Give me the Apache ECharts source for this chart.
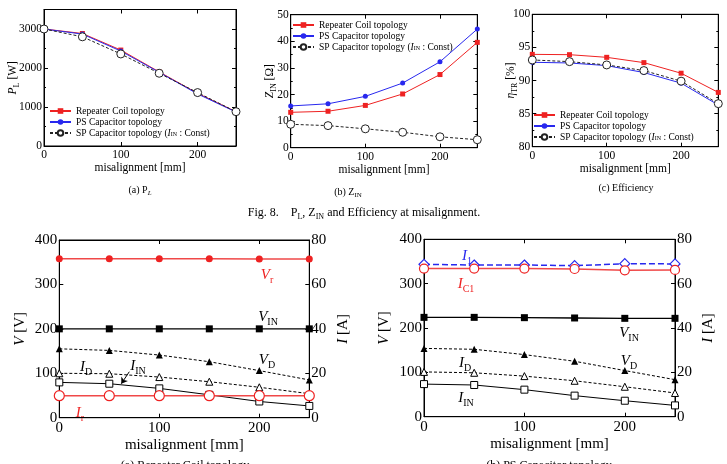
<!DOCTYPE html>
<html>
<head>
<meta charset="utf-8">
<script src="https://cdn.jsdelivr.net/npm/echarts@6/dist/echarts.min.js"></script>
<style>
  html, body { margin: 0; padding: 0; background: #fff; }
  #main { width: 727px; height: 464px; }
</style>
</head>
<body>
<div id="main"></div>
<script>
// misalignment steps [mm]
const misalignment = [0, 50, 100, 150, 200, 250];

// Fig. 8 (a) P_L [W]
const plRepeater = [3000, 2885, 2460, 1900, 1350, 880];
const plPS = [3000, 2870, 2435, 1890, 1335, 870];
const plSP = [3000, 2800, 2360, 1865, 1370, 880];
// Fig. 8 (b) Z_IN [ohm]
const zinRepeater = [13.3, 13.7, 15.9, 20.2, 27.5, 39.6];
const zinPS = [15.7, 16.5, 19.3, 24.3, 32.3, 44.6];
const zinSP = [8.8, 8.3, 7.1, 5.8, 4.1, 3.0];
// Fig. 8 (c) efficiency [%]
const effRepeater = [93.95, 93.9, 93.5, 92.7, 91.1, 88.2];
const effPS = [92.75, 92.65, 92.25, 91.2, 89.6, 86.3];
const effSP = [93.1, 92.85, 92.35, 91.5, 89.9, 86.5];

// Fig. 9 (a) repeater coil topology, V [V] / I [A]
const rcVr = [358, 358, 358, 358, 357, 357];
const rcVin = [200, 200, 200, 200, 200, 200];
const rcVd = [155, 151.5, 141, 126, 106, 85];
const rcId = [20, 19.8, 18.3, 16.2, 13.7, 10.8];
const rcIin = [15.9, 15.3, 13.2, 10.3, 7.3, 5.3];
const rcIr = [9.9, 9.9, 9.9, 9.9, 9.9, 9.9];

// Fig. 9 (b) PS capacitor topology
const psI1 = [68.7, 68.4, 68.4, 68.1, 69.0, 68.9];
const psIc1 = [66.8, 66.8, 66.8, 66.6, 66.0, 66.2];
const psVin = [224, 224, 223.3, 222.6, 221.8, 221.8];
const psVd = [154, 152, 140, 125, 104, 83.5];
const psId = [20.2, 19.8, 18.3, 16.2, 13.5, 10.7];
const psIin = [14.7, 14.3, 12.2, 9.5, 7.2, 5.1];

const legendNames = ['Repeater Coil topology', 'PS Capacitor topology', 'SP Capacitor topology'];

const FONT = 'Liberation Serif';
const RED = '#ee2222';
const RED_LINE = '#f04848';
const BLUE = '#2828ee';

function pair(ys) {
  return misalignment.map((x, i) => [x, ys[i]]);
}

// rich text tokens: n normal, i italic, s subscript, si italic subscript
function richSet(size, color, key) {
  const ss = Math.round(size * 0.68);
  const lh = size * 1.4;
  const t = (o) => Object.assign({ fontFamily: FONT, [key]: color }, o);
  return {
    n: t({ fontSize: size, lineHeight: lh }),
    i: t({ fontSize: size, lineHeight: lh, fontStyle: 'italic' }),
    s: t({ fontSize: ss, lineHeight: ss, verticalAlign: 'bottom' }),
    si: t({ fontSize: ss, lineHeight: ss, verticalAlign: 'bottom', fontStyle: 'italic' })
  };
}

const grids = [
  { left: 44, top: 9.5, width: 192, height: 136.5 },
  { left: 290.7, top: 14.7, width: 186.6, height: 133 },
  { left: 532.3, top: 14.3, width: 186, height: 132.4 },
  { left: 59.3, top: 240, width: 250, height: 177.7 },
  { left: 424, top: 239.3, width: 251, height: 177.4 }
].map(g => Object.assign({ show: true, borderColor: '#000', borderWidth: 1, containLabel: false }, g));

const black = { color: '#000', width: 1 };

function xAxesFor(g, fs, nameGap) {
  const common = {
    type: 'value', gridIndex: g, min: 0, max: 250, interval: 100,
    axisLine: { show: true, onZero: false, lineStyle: black },
    axisTick: { show: true, inside: true, length: 4, lineStyle: black },
    splitLine: { show: false }
  };
  return [
    Object.assign({}, common, {
      position: 'bottom',
      axisLabel: { fontFamily: FONT, fontSize: fs, color: '#000', margin: 3,
        formatter: v => (v % 100 === 0 ? String(v) : '') },
      name: 'misalignment [mm]', nameLocation: 'middle', nameGap: nameGap,
      nameMoveOverlap: false,
      nameTextStyle: { fontFamily: FONT, fontSize: fs, color: '#000' }
    }),
    Object.assign({}, common, { position: 'top', axisLabel: { show: false } })
  ];
}

function yAxis(g, pos, min, max, interval, fs, labels, name, nameGap, minor) {
  const ax = {
    type: 'value', gridIndex: g, position: pos, min: min, max: max, interval: interval,
    axisLine: { show: true, onZero: false, lineStyle: black },
    axisTick: { show: true, inside: true, length: 4, lineStyle: black },
    minorTick: { show: !!minor, splitNumber: 2, length: 2, lineStyle: black },
    splitLine: { show: false },
    axisLabel: labels ? { fontFamily: FONT, fontSize: fs, color: '#000', margin: 2,
      formatter: v => (v % interval === 0 ? String(v) : '') } : { show: false }
  };
  if (name) {
    ax.name = name;
    ax.nameLocation = 'middle';
    ax.nameGap = nameGap;
    ax.nameMoveOverlap = false;
    ax.nameTextStyle = { fontFamily: FONT, fontSize: fs, color: '#000', rich: richSet(fs, '#000', 'color') };
  }
  return ax;
}

const xAxes = [].concat(
  xAxesFor(0, 11.5, 16), xAxesFor(1, 11.5, 16), xAxesFor(2, 11.5, 16),
  xAxesFor(3, 15, 20), xAxesFor(4, 15, 20)
);

const yAxes = [
  yAxis(0, 'left', 0, 3500, 1000, 11.5, true, '{i|P}{s|L}{n| [W]}', 23, true),
  yAxis(0, 'right', 0, 3500, 1000, 11.5, false, null, 0, true),
  yAxis(1, 'left', 0, 50, 10, 11.5, true, '{i|Z}{s|IN}{n| [Ω]}', 13, true),
  yAxis(1, 'right', 0, 50, 10, 11.5, false, null, 0, true),
  yAxis(2, 'left', 80, 100, 5, 11.5, true, '{i|η}{s|TR}{n| [%]}', 13, true),
  yAxis(2, 'right', 80, 100, 5, 11.5, false, null, 0, true),
  yAxis(3, 'left', 0, 400, 100, 15, true, '{i|V}{n| [V]}', 29, false),
  yAxis(3, 'right', 0, 80, 20, 15, true, '{i|I}{n| [A]}', 23, false),
  yAxis(4, 'left', 0, 400, 100, 15, true, '{i|V}{n| [V]}', 29, false),
  yAxis(4, 'right', 0, 80, 20, 15, true, '{i|I}{n| [A]}', 23, false)
];

// hollow markers are drawn as white-filled shapes with a thin coloured edge
function line(name, g, right, ys, color, symbol, size, lineOpt, edge) {
  let itemStyle = { color: color, borderWidth: 0 };
  if (symbol.indexOf('empty') === 0) {
    symbol = symbol.slice(5).toLowerCase();
    itemStyle = { color: '#fff', borderColor: color, borderWidth: edge || 1 };
  }
  return {
    name: name, type: 'line',
    xAxisIndex: g * 2, yAxisIndex: g * 2 + (right ? 1 : 0),
    data: pair(ys),
    symbol: symbol, symbolSize: size,
    itemStyle: itemStyle,
    lineStyle: Object.assign({ color: color, width: 1 }, lineOpt || {}),
    animation: false, silent: true
  };
}

const dash = { type: [3, 2] };

const series = [
  line(legendNames[0], 0, false, plRepeater, RED, 'rect', 5),
  line(legendNames[1], 0, false, plPS, BLUE, 'circle', 5),
  line(legendNames[2], 0, false, plSP, '#222', 'emptyCircle', 8, dash),
  line(legendNames[0], 1, false, zinRepeater, RED, 'rect', 5),
  line(legendNames[1], 1, false, zinPS, BLUE, 'circle', 5),
  line(legendNames[2], 1, false, zinSP, '#222', 'emptyCircle', 8, dash),
  line(legendNames[0], 2, false, effRepeater, RED, 'rect', 5),
  line(legendNames[1], 2, false, effPS, BLUE, 'circle', 5),
  line(legendNames[2], 2, false, effSP, '#222', 'emptyCircle', 8, dash),

  line('Vr', 3, false, rcVr, RED, 'circle', 7, { color: RED_LINE, width: 1.5 }),
  line('VIN', 3, false, rcVin, '#000', 'rect', 7, { width: 1.3 }),
  line('VD', 3, false, rcVd, '#000', 'triangle', 7, dash),
  line('ID', 3, true, rcId, '#000', 'emptyTriangle', 7, dash),
  Object.assign(line('IIN', 3, true, rcIin, '#000', 'emptyRect', 7), {
    markLine: {
      silent: true, animation: false,
      symbol: ['none', 'arrow'], symbolSize: 6,
      lineStyle: { color: '#000', width: 1, type: 'solid' },
      label: { show: false },
      data: [[{ coord: [70, 20.7] }, { coord: [62, 15.3] }]]
    }
  }),
  line('Ir', 3, true, rcIr, RED, 'emptyCircle', 10, { color: RED_LINE, width: 1.5 }, 1.2),

  line('I1', 4, true, psI1, BLUE, 'emptyDiamond', 10, { type: [6, 3], width: 1.5 }, 1.2),
  line('IC1', 4, true, psIc1, RED, 'emptyCircle', 9, { color: RED_LINE, width: 1.5 }, 1.2),
  line('VIN', 4, false, psVin, '#000', 'rect', 7, { width: 1.3 }),
  line('VD', 4, false, psVd, '#000', 'triangle', 7, dash),
  line('ID', 4, true, psId, '#000', 'emptyTriangle', 7, dash),
  line('IIN', 4, true, psIin, '#000', 'emptyRect', 7)
];

const legendRich = richSet(9.5, '#000', 'color');
Object.keys(legendRich).forEach(k => { legendRich[k].lineHeight = 8; });
function legendAt(left, top) {
  return {
    data: legendNames, left: left, top: top, orient: 'vertical',
    itemWidth: 21, itemHeight: 7, itemGap: 1, padding: 0,
    selectedMode: false,
    textStyle: { fontFamily: FONT, fontSize: 9.5, color: '#000', lineHeight: 8, rich: legendRich },
    formatter: name => name === legendNames[2]
      ? '{n|SP Capacitor topology (}{i|I}{s|IN}{n| : Const)}'
      : '{n|' + name + '}'
  };
}

function label(x, y, text, size, color) {
  return {
    type: 'text', x: x, y: y, silent: true,
    style: { text: text, align: 'center', verticalAlign: 'middle', rich: richSet(size, color, 'fill') }
  };
}

const graphics = [
  label(140, 190, '{n|(a) P}{si|L}', 10, '#000'),
  label(348, 192, '{n|(b) Z}{s|IN}', 10, '#000'),
  label(626, 188, '{n|(c) Efficiency}', 10, '#000'),
  label(364, 213, '{n|Fig. 8.    P}{s|L}{n|, Z}{s|IN}{n| and Efficiency at misalignment.}', 12, '#000'),
  // Fig. 9 (a) annotations
  label(267, 275, '{i|V}{s|r}', 15, RED),
  label(268, 317, '{i|V}{s|IN}', 15, '#000'),
  label(267, 360, '{i|V}{s|D}', 15, '#000'),
  label(86, 367, '{i|I}{s|D}', 15, '#000'),
  label(138, 366, '{i|I}{s|IN}', 15, '#000'),
  label(80, 413, '{i|I}{s|r}', 15, RED),
  // Fig. 9 (b) annotations
  label(467, 256, '{i|I}{s|1}', 15, BLUE),
  label(466, 284, '{i|I}{s|C1}', 15, RED),
  label(629, 333, '{i|V}{s|IN}', 15, '#000'),
  label(629, 361, '{i|V}{s|D}', 15, '#000'),
  label(465, 363, '{i|I}{s|D}', 15, '#000'),
  label(466, 398, '{i|I}{s|IN}', 15, '#000'),
  // captions below the lower plots, cut by the page edge
  {
    type: 'text', x: 185, y: 460, silent: true,
    style: { text: '(a) Repeater Coil topology', align: 'center', verticalAlign: 'top',
      fontFamily: FONT, fontSize: 12, fill: '#000' }
  },
  {
    type: 'text', x: 549, y: 460, silent: true,
    style: { text: '(b) PS Capacitor topology', align: 'center', verticalAlign: 'top',
      fontFamily: FONT, fontSize: 12, fill: '#000' }
  }
];

const chart = echarts.init(document.getElementById('main'));
chart.setOption({
  animation: false,
  backgroundColor: '#fff',
  grid: grids,
  xAxis: xAxes,
  yAxis: yAxes,
  legend: [legendAt(49, 106), legendAt(292, 20), legendAt(533, 110)],
  series: series,
  graphic: graphics
});
</script>
</body>
</html>
